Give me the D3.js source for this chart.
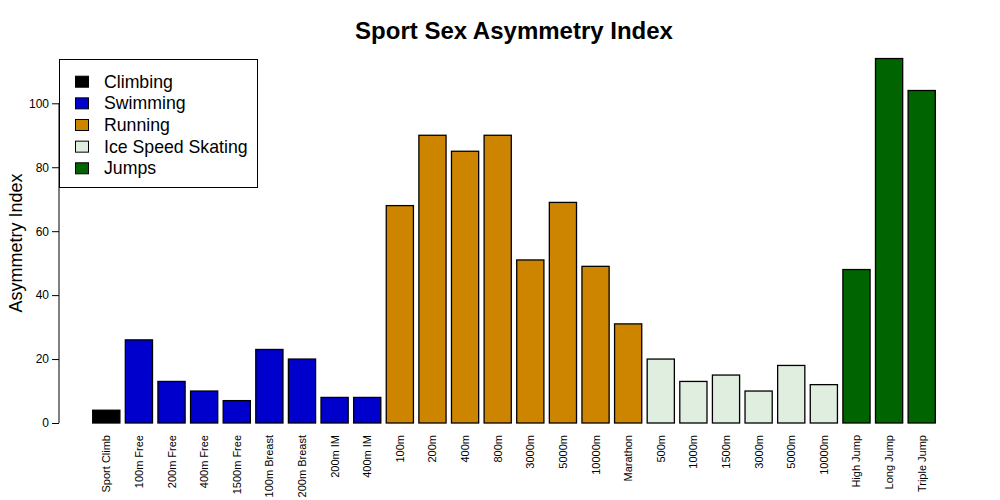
<!DOCTYPE html>
<html><head><meta charset="utf-8">
<script src="https://cdn.jsdelivr.net/npm/d3@7"></script>
<style>body{margin:0;background:#fff}svg{display:block;font-family:"Liberation Sans",Arial,sans-serif}</style>
</head><body><svg id="c" width="1000" height="500"></svg>
<script>
const categories = ["Sport Climb","100m Free","200m Free","400m Free","1500m Free","100m Breast","200m Breast","200m IM","400m IM","100m","200m","400m","800m","3000m","5000m","10000m","Marathon","500m","1000m","1500m","3000m","5000m","10000m","High Jump","Long Jump","Triple Jump"];
const values = [4,26,13,10,7,23,20,8,8,68,90,85,90,51,69,49,31,20,13,15,10,18,12,48,114,104];
const groups = ["Climbing","Swimming","Swimming","Swimming","Swimming","Swimming","Swimming","Swimming","Swimming","Running","Running","Running","Running","Running","Running","Running","Running","Ice Speed Skating","Ice Speed Skating","Ice Speed Skating","Ice Speed Skating","Ice Speed Skating","Ice Speed Skating","Jumps","Jumps","Jumps"];
const groupNames = ["Climbing","Swimming","Running","Ice Speed Skating","Jumps"];
const groupColors = ["#000000","#0000CD","#CD8500","#E0EEE0","#006400"];
const yTicks = [0,20,40,60,80,100];

const svg = d3.select("#c");
const left = 59, right = 969;
const n = categories.length;
// R barplot-style units: bars at 0.2 + i*1.2, width 1
const span = n*1.2 - 0.2;
const xU = d3.scaleLinear().domain([0.2 - 0.04*span, n*1.2 + 0.04*span]).range([left, right]);
const y = d3.scaleLinear().domain([0, 100]).range([423, 103.3]);
const color = d3.scaleOrdinal().domain(groupNames).range(groupColors);

const idx = d3.range(n);
svg.append("g").selectAll("rect").data(idx).join("rect")
  .attr("x", i => xU(0.2 + i*1.2))
  .attr("width", i => xU(1.2 + i*1.2) - xU(0.2 + i*1.2))
  .attr("y", i => y(values[i]))
  .attr("height", i => y(0) - y(values[i]))
  .attr("fill", i => color(groups[i]))
  .attr("stroke", "#000").attr("stroke-width", 1.3);

// x labels
svg.append("g").selectAll("text").data(idx).join("text")
  .attr("transform", i => `translate(${xU(0.7 + i*1.2)+4},435) rotate(-90)`)
  .attr("text-anchor", "end").attr("font-size", 11).attr("fill", "#000")
  .text(i => categories[i]);

// y axis
const yAxis = d3.axisLeft(y).tickValues(yTicks).tickSize(7).tickPadding(3).tickFormat(d3.format("d"));
const ga = svg.append("g").attr("transform", `translate(${left},0)`).call(yAxis);
ga.selectAll(".domain").attr("d", `M0,${y(0)}V${y(100)}`).attr("stroke", "#000");
ga.selectAll("text").attr("font-size", 12).attr("font-family", "Liberation Sans, Arial, sans-serif").attr("fill", "#000");
ga.selectAll("line").attr("stroke", "#000");

// y label
svg.append("text").attr("transform", "translate(22,243) rotate(-90)")
  .attr("text-anchor", "middle").attr("font-size", 18).text("Asymmetry Index");

// title
svg.append("text").attr("x", 514).attr("y", 39).attr("text-anchor", "middle")
  .attr("font-size", 24).attr("font-weight", "bold").text("Sport Sex Asymmetry Index");

// legend
const lg = svg.append("g");
lg.append("rect").attr("x", 59.5).attr("y", 59.5).attr("width", 198).attr("height", 128)
  .attr("fill", "#fff").attr("stroke", "#000");
groupNames.forEach((g, i) => {
  const cy = 81.7 + i*21.65;
  lg.append("rect").attr("x", 75.5).attr("y", cy - 5.5).attr("width", 13).attr("height", 11)
    .attr("fill", groupColors[i]).attr("stroke", "#000");
  lg.append("text").attr("x", 104).attr("y", cy + 6).attr("font-size", 17.7).text(g);
});
</script></body></html>
